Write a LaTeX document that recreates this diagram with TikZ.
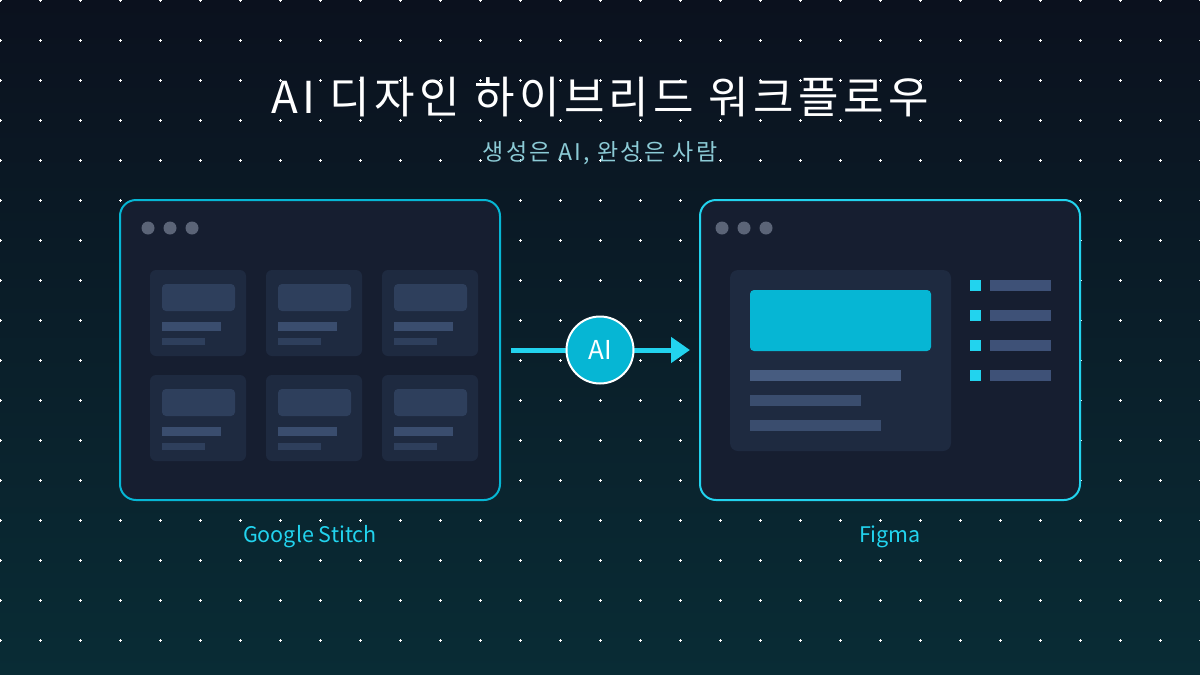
\documentclass[tikz,border=0pt]{standalone}
\usepackage{fontspec}
\setmainfont{Noto Sans CJK KR}
\newfontfamily\spacedfont[LetterSpace=10]{Noto Sans CJK KR}
\usetikzlibrary{arrows.meta}
\definecolor{bgtop}{HTML}{0B111E}
\definecolor{bgbot}{HTML}{092C35}
\definecolor{winfill}{HTML}{161E30}
\definecolor{cardfill}{HTML}{1E2A40}
\definecolor{imgfill}{HTML}{2E3F5C}
\definecolor{lineA}{HTML}{3A4D6E}
\definecolor{lineB}{HTML}{475C80}
\definecolor{barfill}{HTML}{3E5177}
\definecolor{cyanA}{HTML}{06B6D4}
\definecolor{cyanB}{HTML}{22D3EE}
\definecolor{traffic}{HTML}{5B6477}
\definecolor{subcol}{HTML}{8CCBD6}
\tikzset{
  window/.style={draw=#1, line width=2pt, fill=winfill, rounded corners=16pt,
    minimum width=380pt, minimum height=300pt, inner sep=0pt},
  tdot/.style={fill=traffic},
  flowarrow/.style={draw=cyanB, line width=5pt, -{Triangle[length=19pt,width=25pt]}},
  lbl/.style={text=cyanB, font=\fontsize{21.5}{25}\selectfont, anchor=base},
}
\begin{document}
\begin{tikzpicture}[x=1pt,y=-1pt]
\useasboundingbox (0,0) rectangle (1200,675);
\shade[top color=bgtop, bottom color=bgbot] (0,0) rectangle (1200,675);
% dot grid
\foreach \i in {0,...,30}{
  \foreach \j in {0,...,16}{
    \fill[white] (\i*40-1.5,\j*40-0.5) rectangle ++(3,1);
    \fill[white] (\i*40-0.5,\j*40-1.5) rectangle ++(1,3);
  }
}
% title
\node[anchor=base, text=white, font=\spacedfont\fontsize{44}{50}\selectfont] (title) at (600,113) {AI 디자인 하이브리드 워크플로우};
\node[anchor=base, text=subcol, font=\spacedfont\fontsize{23}{27}\selectfont] (subtitle) at (600,160) {생성은 AI, 완성은 사람};
% windows
\node[window=cyanA] (stitch) at (310,350) {};
\node[window=cyanB] (figma) at (890,350) {};
% traffic lights
\foreach \x in {148,170,192}{ \fill[tdot] (\x,228) circle (6.5); }
\foreach \x in {722,744,766}{ \fill[tdot] (\x,228) circle (6.5); }
% left cards
\foreach \cx in {150,266,382}{
  \foreach \cy in {270,375}{
    \fill[cardfill, rounded corners=6pt] (\cx,\cy) rectangle ++(96,86);
    \fill[imgfill, rounded corners=4pt] (\cx+12,\cy+14) rectangle ++(73,27);
    \fill[lineA] (\cx+12,\cy+52) rectangle ++(59,9);
    \fill[imgfill] (\cx+12,\cy+68) rectangle ++(43,7);
  }
}
% right window content
\fill[cardfill, rounded corners=8pt] (730,270) rectangle (951,451);
\fill[cyanA, rounded corners=4pt] (750,290) rectangle (931,351);
\fill[lineB] (750,370) rectangle (901,381);
\fill[lineA] (750,395) rectangle (861,406);
\fill[lineA] (750,420) rectangle (881,431);
\foreach \y in {280,310,340,370}{
  \fill[cyanB] (970,\y) rectangle ++(11,11);
  \fill[barfill] (990,\y) rectangle ++(61,11);
}
% arrow and AI badge
\coordinate (astart) at ([xshift=10pt]stitch.east);
\coordinate (aend) at ([xshift=-9pt]figma.west);
\draw[flowarrow] (astart) -- (aend);
\node[circle, fill=cyanA, draw=white, line width=2pt, minimum size=67pt, inner sep=0pt,
  text=white, font=\fontsize{26}{30}\selectfont] (ai) at (600,350) {AI};
% labels
\node[lbl] (lstitch) at (310,542) {Google Stitch};
\node[lbl] (lfigma) at (890,542) {Figma};
\end{tikzpicture}
\end{document}
